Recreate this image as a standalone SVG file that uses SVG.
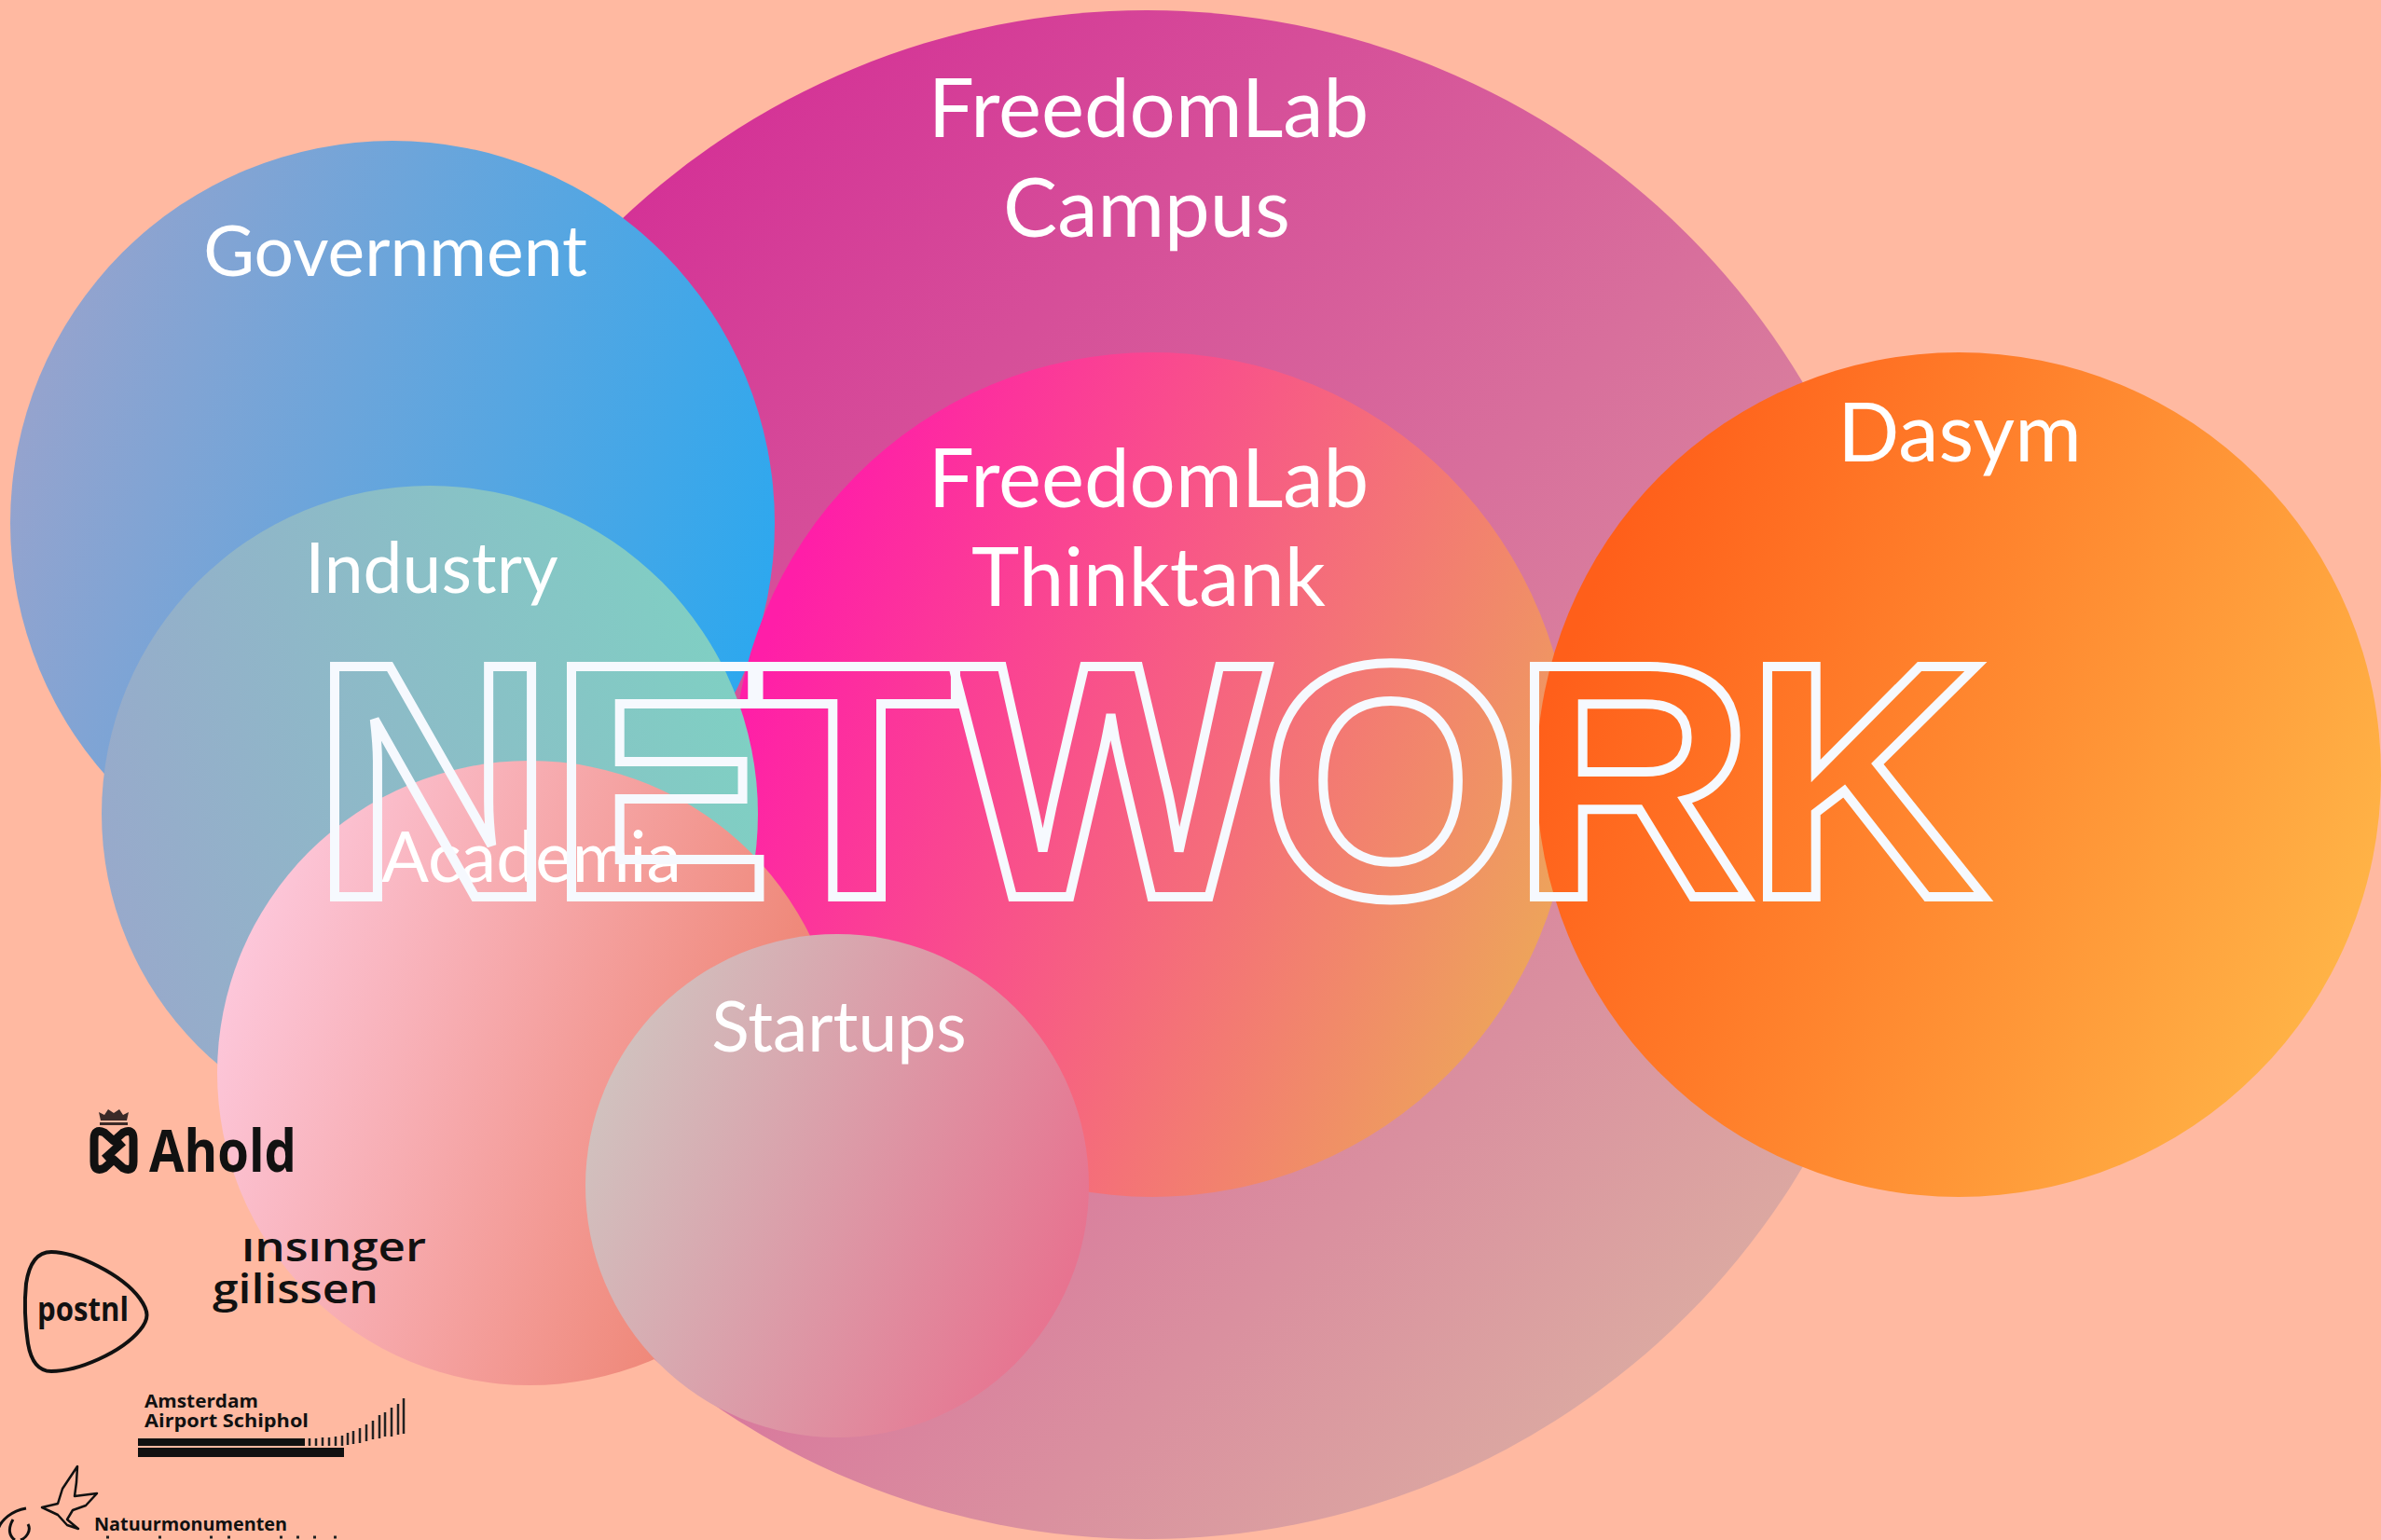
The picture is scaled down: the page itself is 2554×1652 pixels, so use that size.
<svg xmlns="http://www.w3.org/2000/svg" width="2554" height="1652" viewBox="0 0 2554 1652">
<style>
.l{font-family:"Lato","Liberation Sans",sans-serif;fill:#fff;text-anchor:middle}
.lg{font-family:"Open Sans","Liberation Sans",sans-serif;font-weight:700;fill:#111}
.s{fill:none;stroke:#111;stroke-linejoin:round}
</style>
<defs>
<linearGradient id="gc" x1="0" y1="0" x2="1" y2="1"><stop offset=".12" stop-color="#d42e96"/><stop offset=".9" stop-color="#dcb0a2"/></linearGradient>
<linearGradient id="gg" x1="0" y1="0.35" x2="1" y2="0.65"><stop offset="0" stop-color="#97a3cd"/><stop offset="1" stop-color="#2ba8ef"/></linearGradient>
<linearGradient id="gi" x1="0" y1="0.6" x2="1" y2="0.35"><stop offset="0" stop-color="#98a9cb"/><stop offset="1" stop-color="#7fd0c3"/></linearGradient>
<linearGradient id="ga" x1="0" y1="0.35" x2="1" y2="0.7"><stop offset="0" stop-color="#fdc8dc"/><stop offset="1" stop-color="#ec7a63"/></linearGradient>
<linearGradient id="gs" x1="0" y1="0.3" x2="1" y2="0.7"><stop offset="0" stop-color="#d0c4c0"/><stop offset="1" stop-color="#e8708e"/></linearGradient>
<linearGradient id="gt" x1="0" y1="0.3" x2="1" y2="0.7"><stop offset="0.05" stop-color="#ff1ea8"/><stop offset="1" stop-color="#eda858"/></linearGradient>
<linearGradient id="gd" x1="0" y1="0.3" x2="1" y2="0.7"><stop offset="0.05" stop-color="#ff5f1a"/><stop offset="1" stop-color="#ffb648"/></linearGradient>
<clipPath id="topclip"><rect x="240" y="1328" width="240" height="40"/></clipPath>
</defs>
<rect width="2554" height="1652" fill="#ffb9a1"/>
<g id="campus"><circle cx="1230" cy="831" r="820" fill="url(#gc)"/><text class="l" x="1232" y="147" font-size="87">FreedomLab</text><text class="l" x="1230" y="254" font-size="87">Campus</text></g>
<g id="government"><circle cx="421" cy="561" r="410" fill="url(#gg)"/><text class="l" x="424" y="296" font-size="75">Government</text></g>
<g id="thinktank"><ellipse cx="1236" cy="831" rx="450" ry="453" fill="url(#gt)"/><text class="l" x="1232" y="544" font-size="87">FreedomLab</text><text class="l" x="1232" y="650" font-size="87">Thinktank</text></g>
<g id="dasym"><circle cx="2101" cy="831" r="453" fill="url(#gd)"/><text class="l" x="2102" y="495" font-size="87">Dasym</text></g>
<g id="industry"><circle cx="461" cy="873" r="352" fill="url(#gi)"/><text class="l" x="463" y="636" font-size="75">Industry</text></g>
<g id="academia"><circle cx="568" cy="1151" r="335" fill="url(#ga)"/><text class="l" x="570" y="946" font-size="75">Academia</text></g>
<g id="startups"><circle cx="898" cy="1272" r="270" fill="url(#gs)"/><text class="l" x="900" y="1128" font-size="75">Startups</text></g>
<g id="network"><text x="335 589 809.5 1022 1352.5 1622 1872" y="962" font-family="Liberation Sans" font-weight="700" font-size="359" fill="none" stroke="#f6f9fe" stroke-width="10">NETWORK</text></g>
<g id="logos">
<g id="ahold"><text class="lg" x="160" y="1257" font-size="63" textLength="158" lengthAdjust="spacingAndGlyphs">Ahold</text><path class="s" stroke-width="9" d="M122 1224l-10-9q-11-5-11 7v24q0 12 11 7l10-9 10 9q11 5 11-7v-24q0-12-11-7l-10 9zM112 1243l20-18"/><path d="M108 1202h28l2-9-6 3-4-6-6 4-6-4-4 6-6-3zM107 1204h30v3h-30z" fill="#3a2a28"/></g>
<g id="postnl"><path class="s" stroke-width="4" d="M55 1343c26 0 76 24 95 50 10 14 10 22 0 34-20 24-66 44-95 44-14 0-22-12-25-30-3-20-4-44-2-64 3-20 11-34 27-34z"/><text class="lg" x="40" y="1417" font-size="36" textLength="98" lengthAdjust="spacingAndGlyphs">postnl</text></g>
<g id="insinger"><text class="lg" x="259" y="1353" font-size="44" font-weight="600" style="font-weight:600" textLength="198" lengthAdjust="spacingAndGlyphs" clip-path="url(#topclip)">insinger</text><text class="lg" x="228" y="1398" font-size="44" style="font-weight:600" textLength="178" lengthAdjust="spacingAndGlyphs">gilissen</text></g>
<g id="schiphol"><text class="lg" x="155" y="1510" font-size="19" textLength="122" lengthAdjust="spacingAndGlyphs">Amsterdam</text><text class="lg" x="155" y="1531" font-size="19" textLength="176" lengthAdjust="spacingAndGlyphs">Airport Schiphol</text><rect x="148" y="1543" width="179" height="8" fill="#111"/><rect x="148" y="1553" width="221" height="10" fill="#111"/><path d="M332 1551v-8M339 1551v-8M346 1551v-9M353 1551v-9M360 1551v-10M367 1551v-11M373 1550v-13M379 1549v-14M386 1548v-16M393 1546v-18M400 1544v-20M407 1543v-25M413 1541v-26M420 1541v-31M427 1539v-33M433 1538v-38" stroke="#222" stroke-width="2.5" fill="none"/></g>
<g id="natuur"><path class="s" stroke-width="2.5" d="M83 1573l-1 17-2 15 24-3-12 13-14 5-6 10 12 10-12-4-10-11-17-8 17-4 5-16z"/><text class="lg" x="101" y="1642" font-size="20" textLength="207" lengthAdjust="spacingAndGlyphs">Natuurmonumenten</text><path class="s" stroke-width="3" d="M28 1618c-16 3-26 12-30 22M14 1630c-6 10-4 18 2 22M30 1635c4 7-2 15-8 17"/><path d="M114 1649h3M170 1649h3M225 1649h3M244 1649h3M300 1649h3M318 1649h3M336 1649h3M358 1649h3" stroke="#222" stroke-width="3" fill="none"/></g>
</g>
</svg>
